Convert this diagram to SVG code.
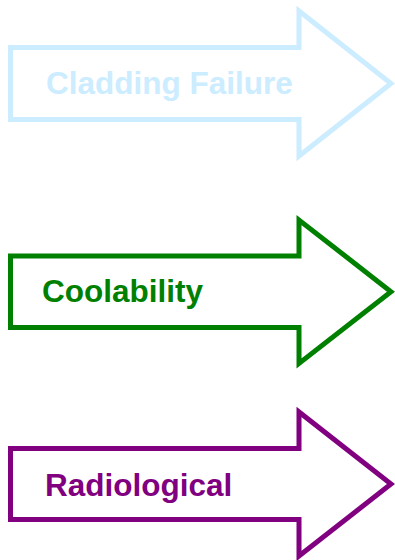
<svg xmlns="http://www.w3.org/2000/svg" width="395" height="560" viewBox="0 0 395 560">
<style>
.arrow{fill:#ffffff;stroke-width:5;stroke-linejoin:miter;stroke-miterlimit:10}
.lbl{font-family:"Liberation Sans",Arial,sans-serif;font-weight:bold;font-size:31.5px}
</style>
<rect width="395" height="560" fill="#ffffff"/>
<g id="cladding">
<path class="arrow" stroke="#CCECFF" d="M10.5,47.5 H299 V11 L391,83.5 L299,156 V119.5 H10.5 Z"/>
<text class="lbl" x="46" y="94" fill="#CCECFF">Cladding Failure</text>
</g>
<g id="coolability">
<path class="arrow" stroke="#008000" d="M10.5,256 H299 V220 L391,291.7 L299,363.5 V327.5 H10.5 Z"/>
<text class="lbl" x="42" y="302" fill="#008000">Coolability</text>
</g>
<g id="radiological">
<path class="arrow" stroke="#800080" d="M10.5,448.5 H299 V412 L391,484 L299,556 V519.5 H10.5 Z"/>
<text class="lbl" x="45" y="496" fill="#800080">Radiological</text>
</g>
<g id="connectors"></g>
</svg>
